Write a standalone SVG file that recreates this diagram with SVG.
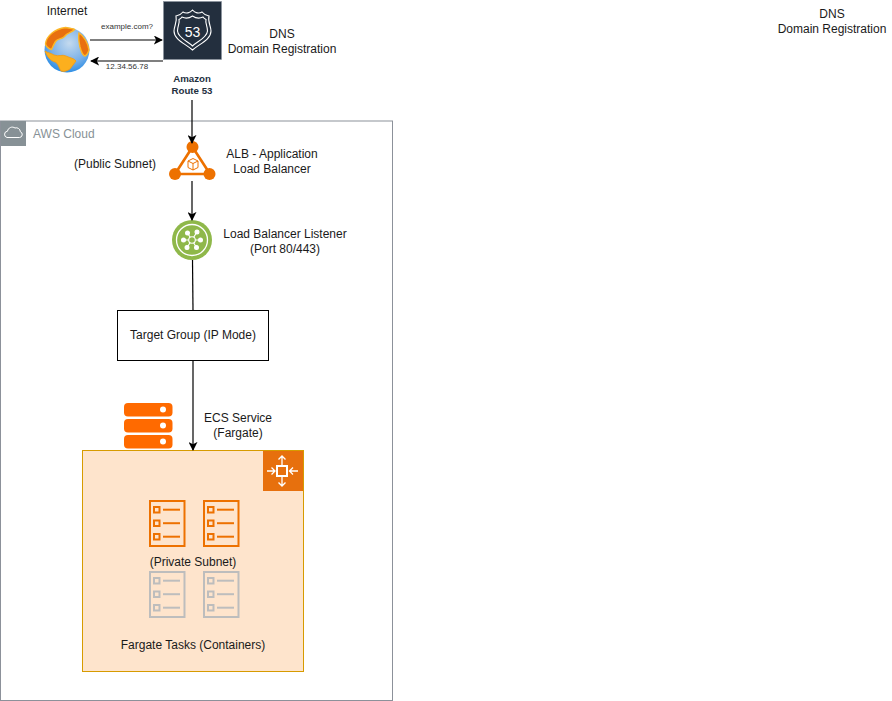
<svg xmlns="http://www.w3.org/2000/svg" width="892" height="701" viewBox="0 0 892 701">
<style>
text{font-family:"Liberation Sans",Arial,sans-serif;font-size:12px;fill:#1a1a1a;text-anchor:middle}
.s{font-size:8px;fill:#333}
.b{font-size:9.700px;font-weight:bold;fill:#232f3e}
.c{fill:none;stroke:#000;stroke-width:1.2}
.l{fill:none;stroke:currentColor;stroke-width:2}
</style>
<defs>
<marker id="a" viewBox="0 0 10 10" refX="9" refY="5" markerWidth="9" markerHeight="9" markerUnits="userSpaceOnUse" orient="auto"><path d="M0 0L10 5L0 10L2.5 5Z" fill="#000"/></marker>
<radialGradient id="gl" cx="55%" cy="35%" r="70%"><stop offset="0" stop-color="#c4daee"/><stop offset=".6" stop-color="#7ab0e8"/><stop offset="1" stop-color="#1e88e5"/></radialGradient>
<g id="task">
<rect x="1" y="1" width="34.500" height="45" class="l"/>
<rect x="5" y="7" width="5.500" height="5.500" class="l"/><path d="M14 9.700H31" class="l"/>
<rect x="5" y="20.500" width="5.500" height="5.500" class="l"/><path d="M14 23.200H31" class="l"/>
<rect x="5" y="34" width="5.500" height="5.500" class="l"/><path d="M14 36.700H31" class="l"/>
</g>
</defs>
<rect width="892" height="701" fill="#fff"/>
<g id="aws-cloud">
<rect x="0.500" y="121" width="392" height="579.500" fill="#fff" stroke="#8c919a"/>
<rect x="1" y="121" width="25" height="25" fill="#879196"/>
<path d="M7 137.500h12.500a3 3 0 0 0 .8-5.800 4 4 0 0 0-5.300-3.700 4.800 4.800 0 0 0-7.500 3.200 3.200 3.200 0 0 0-.5 6.300z" fill="none" stroke="#fff" stroke-width="1"/>
<text x="33" y="138" style="text-anchor:start;fill:#879196">AWS Cloud</text>
</g>
<g id="internet">
<circle cx="67" cy="50" r="22.500" fill="url(#gl)"/>
<path d="M45.500 44c1-8 9-15 20-16.500 3 .5 7 1 9 2-2 3-7 3-10 7-3 3-7 2-9 5-2 3-3 6-4 8-3-1-5-2-6-5.500z" fill="#e8700f" stroke="#fdb726" stroke-width="1.400"/>
<path d="M45 51c3 2 6 2 9 4 5 2 8-1 12 1 4 2 8 2 10 5-2 3-4 5-6 8-3 2-6 3-9 2-2-3-3-8-6-9-4-1-8-5-10-11z" fill="#fcaf1e" stroke="#f59a0e" stroke-width=".8"/>
<path d="M79 33c5 3 9 10 10 17-1 3-2 5-4 6-3-1-4-5-5-9-1-5-2-9-1-14z" fill="#e8700f" stroke="#fdb726" stroke-width="1.400"/>
<text x="67" y="15">Internet</text>
</g>
<g id="route53">
<rect x="163.500" y="1.500" width="58" height="58" fill="#232f3e" stroke="#8a939e" stroke-width=".6"/>
<path d="M192.500 10C195 13 199 14 202 12C204 14.500 206 15.500 209 16C207.500 22 211 26 211 31C211 40 199 44 192.500 50C186 44 174 40 174 31C174 26 177.500 22 176 16C179 15.500 181 14.500 183 12C186 14 190 13 192.500 10Z" fill="none" stroke="#fff" stroke-width="1.100"/>
<path d="M192.500 16C195.500 18 200 18.500 203 17C204 18.500 205 19 206 19.500C205 23 207.500 26 207.500 31C207 38 197 41.500 192.500 46C188 41.500 178 38 177.500 31C177.500 26 180 23 179 19.500C180 19 181 18.500 182 17C185 18.500 189.500 18 192.500 16Z" fill="none" stroke="#fff" stroke-width="1.100"/>
<text x="192.500" y="37" style="font-size:14px;fill:#fff">53</text>
<text class="b" x="192" y="82">Amazon</text>
<text class="b" x="192" y="94">Route 53</text>
</g>
<g id="dns-label-1"><text x="282" y="38">DNS</text><text x="282" y="53">Domain Registration</text></g>
<g id="dns-label-2"><text x="832" y="18">DNS</text><text x="832" y="33">Domain Registration</text></g>
<g id="alb">
<path d="M192.500 147L210 174H175Z" fill="none" stroke="#ed7100" stroke-width="2.600"/>
<circle cx="192.500" cy="147" r="6" fill="#ed7100"/><circle cx="175" cy="174" r="6" fill="#ed7100"/><circle cx="209.500" cy="174" r="6" fill="#ed7100"/>
<path d="M193 158.500l5 2.500v6.500l-5 2.500-5-2.500V161zM188 161l5 2.500 5-2.500M193 163.500v6.500" fill="none" stroke="#ed7100" stroke-width="1"/>
<text x="272" y="158">ALB - Application</text><text x="272" y="173">Load Balancer</text>
<text x="115" y="168">(Public Subnet)</text>
</g>
<g id="listener">
<circle cx="192" cy="240" r="20" fill="#8fb84a"/>
<circle cx="192" cy="240" r="15.500" fill="none" stroke="#fff" stroke-width="1.300"/>
<g stroke="#fff" stroke-width="1.200" fill="#fff">
<path d="M183.500 240H200.500M187.500 233L196.500 247.500M197 232L187 247.500"/>
<circle cx="183.500" cy="240" r="1.900"/><circle cx="200.500" cy="240" r="1.900"/><circle cx="187.500" cy="233" r="1.900"/><circle cx="197" cy="232" r="1.900"/><circle cx="196.500" cy="247.500" r="1.900"/><circle cx="187" cy="247.500" r="1.900"/>
</g>
<circle cx="192" cy="240" r="3.300" fill="#8fb84a" stroke="#fff" stroke-width="1.100"/>
<text x="285" y="238">Load Balancer Listener</text><text x="285" y="253">(Port 80/443)</text>
</g>
<g id="target-group">
<rect x="117.500" y="310.500" width="151" height="50" fill="#fff" stroke="#000"/>
<text x="193" y="339">Target Group (IP Mode)</text>
</g>
<g id="ecs-service">
<rect x="124" y="403" width="48.500" height="13.500" rx="4" fill="#ff6a00"/>
<rect x="124" y="419" width="48.500" height="13.500" rx="4" fill="#ff6a00"/>
<rect x="124" y="435" width="48.500" height="13.500" rx="4" fill="#ff6a00"/>
<circle cx="163" cy="409.500" r="3" fill="#fff"/><circle cx="163" cy="425.500" r="3" fill="#fff"/><circle cx="163" cy="441.500" r="3" fill="#fff"/>
<text x="238" y="422">ECS Service</text><text x="238" y="437">(Fargate)</text>
</g>
<g id="fargate-tasks">
<rect x="82.500" y="450.500" width="221" height="221" fill="#fee4cc" stroke="#d79b00"/>
<rect x="263" y="451" width="40" height="40" fill="#e7700d"/>
<g fill="none" stroke="#fff" stroke-width="1.300">
<rect x="277" y="466" width="10" height="10" stroke-width="2"/>
<path d="M282 465V456M278.500 459.500L282 456L285.500 459.500M282 477V486M278.500 482.500L282 486L285.500 482.500"/>
<path d="M267 471H275M271.500 467.500L275 471L271.500 474.500M298 471H289.500M293 467.500L289.500 471L293 474.500"/>
</g>
<use href="#task" x="149" y="500" color="#ed7100"/><use href="#task" x="203" y="500" color="#ed7100"/>
<use href="#task" x="149" y="571" color="#bdbdbd"/><use href="#task" x="203" y="571" color="#bdbdbd"/>
<text x="193" y="566">(Private Subnet)</text>
<text x="193" y="649">Fargate Tasks (Containers)</text>
</g>
<g id="connectors">
<path class="c" d="M90 40H162" marker-end="url(#a)"/>
<path class="c" d="M163 61H91" marker-end="url(#a)"/>
<path class="c" d="M192 100V143" marker-end="url(#a)"/>
<path class="c" d="M192 181V220" marker-end="url(#a)"/>
<path class="c" d="M192.500 260L193 310"/>
<path class="c" d="M193 361V450" marker-end="url(#a)"/>
<text class="s" x="127" y="29">example.com?</text>
<text class="s" x="127" y="69">12.34.56.78</text>
</g>
</svg>
